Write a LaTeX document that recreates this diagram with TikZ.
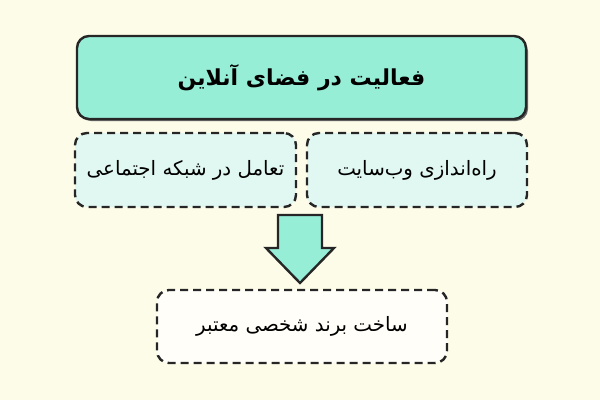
\documentclass[tikz,border=0pt]{standalone}
\usepackage{fontspec}
\TeXXeTstate=1
\newfontfamily\arabicfont[Script=Arabic]{DejaVu Sans}
\definecolor{bgcol}{HTML}{FDFCE9}
\definecolor{mint}{HTML}{97EED7}
\definecolor{lightbox}{HTML}{E1F7F1}
\definecolor{whitebox}{HTML}{FFFEF8}
\tikzset{
  base/.style={rounded corners=12pt, line width=2.4pt, draw=black!85, align=center, inner sep=0pt},
  topbox/.style={base, fill=mint, font=\arabicfont\bfseries\fontsize{22}{26}\selectfont},
  dashbox/.style={base, dash pattern=on 8pt off 5pt, fill=lightbox, font=\arabicfont\fontsize{19.8}{23}\selectfont},
  botbox/.style={dashbox, fill=whitebox},
  bigarrow/.style={fill=mint, draw=black!85, line width=2.4pt, line join=miter}
}
\begin{document}
\begin{tikzpicture}[x=1pt,y=-1pt]
\fill[bgcol] (0,0) rectangle (600,400);
\useasboundingbox (0,0) rectangle (600,400);
\fill[black!60, rounded corners=12pt] (79,39) rectangle (528,121);
\node[topbox, minimum width=449pt, minimum height=83pt] (top) at (301.5,77.5) {\beginR فعالیت در فضای آنلاین\endR};
\node[dashbox, minimum width=221pt, minimum height=74pt] (left) at (185.5,170) {\beginR تعامل در شبکه اجتماعی\endR};
\node[dashbox, minimum width=220pt, minimum height=74pt] (right) at (417,170) {\beginR راه‌اندازی وب‌سایت\endR};
\node[botbox, minimum width=290pt, minimum height=73pt] (bottom) at (302,326.5) {\beginR ساخت برند شخصی معتبر\endR};
\coordinate (a0) at (300,215);
\draw[bigarrow] ([xshift=-22pt]a0) -- ([xshift=22pt]a0) -- ++(0,33) -- ++(12,0) -- (300,283) -- (266,248) -- ++(12,0) -- cycle;
\end{tikzpicture}
\end{document}
